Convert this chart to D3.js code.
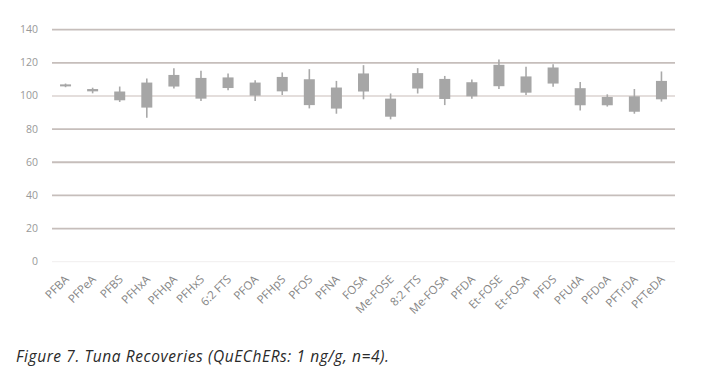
<!DOCTYPE html>
<html><head><meta charset="utf-8">
<script src="https://cdn.jsdelivr.net/npm/d3@7"></script>
<style>body{margin:0;background:#fff;}svg{display:block;}</style>
</head><body>
<script>
const categories = ["PFBA","PFPeA","PFBS","PFHxA","PFHpA","PFHxS","6:2 FTS","PFOA","PFHpS","PFOS","PFNA","FOSA","Me-FOSE","8:2 FTS","Me-FOSA","PFDA","Et-FOSE","Et-FOSA","PFDS","PFUdA","PFDoA","PFTrDA","PFTeDA"];
const mins = [105.3,101.6,96.4,86.9,104.5,97.0,103.5,97.0,100.6,92.5,89.3,98.0,85.9,101.5,94.5,98.4,104.2,100.6,105.5,91.3,93.6,89.3,96.6];
const q1s  = [105.8,102.8,97.4,93.0,105.7,98.4,104.8,100.2,102.8,94.5,92.4,102.7,87.5,104.5,98.2,99.8,105.9,102.0,107.5,94.4,94.4,90.5,98.0];
const q3s  = [107.0,104.2,102.7,108.1,112.7,110.9,111.2,108.1,111.5,110.1,105.1,113.6,98.4,113.8,110.3,108.3,118.8,111.8,117.2,104.7,99.4,99.8,109.1];
const maxs = [107.5,105.0,105.7,110.5,116.8,115.2,113.6,109.5,114.2,116.2,109.1,118.6,101.5,116.8,112.1,109.9,122.0,117.6,119.2,108.5,101.0,104.2,114.8];
const yTicks = [0,20,40,60,80,100,120,140];
const caption = "Figure 7. Tuna Recoveries (QuEChERs: 1 ng/g, n=4).";

(function(){
const W = 724, H = 387;
const mLeft = 52, mRight = 675, mTop = 29.7, mBottom = 261.7;
const svg = d3.select("body").append("svg").attr("width", W).attr("height", H);

const x = d3.scaleBand().domain(categories).range([mLeft, mRight]);
const y = d3.scaleLinear().domain([0, 140]).range([mBottom, mTop]);

// gridlines
svg.append("g").selectAll("line").data(yTicks).join("line")
  .attr("x1", mLeft).attr("x2", mRight)
  .attr("y1", d => y(d)).attr("y2", d => y(d))
  .attr("stroke", d => d === 0 ? "#f0eeee" : (d === 100 ? "#e4dedc" : "#c6bebb"))
  .attr("stroke-width", d => d === 0 ? 1 : 1.8);

// y tick labels
svg.append("g").selectAll("text").data(yTicks).join("text")
  .attr("x", 38).attr("y", d => y(d) + 3.5)
  .attr("text-anchor", "end")
  .attr("font-family", "Open Sans, sans-serif").attr("font-size", 10.5)
  .attr("fill", "#999999")
  .text(d => d);

const data = categories.map((c, i) => ({c, min: mins[i], q1: q1s[i], q3: q3s[i], max: maxs[i]}));
const bw = 11;
const g = svg.append("g");
g.selectAll("line.w").data(data).join("line").attr("class", "w")
  .attr("x1", d => x(d.c) + x.bandwidth()/2).attr("x2", d => x(d.c) + x.bandwidth()/2)
  .attr("y1", d => y(d.max)).attr("y2", d => y(d.min))
  .attr("stroke", "#a9a9a9").attr("stroke-width", 1.6);
g.selectAll("rect").data(data).join("rect")
  .attr("x", d => x(d.c) + x.bandwidth()/2 - bw/2)
  .attr("width", bw)
  .attr("y", d => y(d.q3))
  .attr("height", d => y(d.q1) - y(d.q3))
  .attr("fill", "#a6a6a6");

// x labels
svg.append("g").selectAll("text").data(categories).join("text")
  .attr("transform", d => `translate(${x(d) + x.bandwidth()/2 + 4},${280}) rotate(-45)`)
  .attr("text-anchor", "end")
  .attr("font-family", "Open Sans, sans-serif").attr("font-size", 11.5)
  .attr("fill", "#858585")
  .text(d => d);

svg.append("text").attr("x", 16).attr("y", 361.5)
  .attr("font-family", "Open Sans, sans-serif").attr("font-size", 15.5)
  .attr("font-style", "italic").attr("fill", "#2a2a2a")
  .attr("textLength", 373).attr("lengthAdjust", "spacing")
  .text(caption);
})();
</script>
</body></html>
